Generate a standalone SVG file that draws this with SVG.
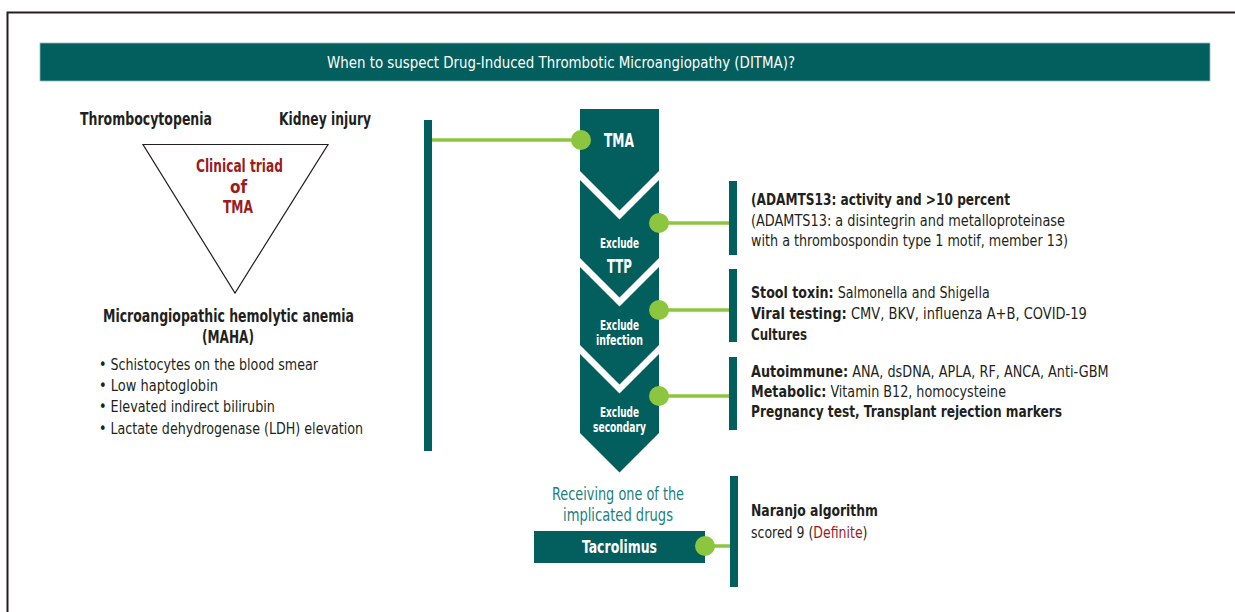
<svg xmlns="http://www.w3.org/2000/svg" width="1235" height="612" viewBox="0 0 1235 612">
<style>
text{font-family:"Liberation Sans Narrow","DejaVu Sans Condensed","Liberation Sans",sans-serif;fill:#231f20}
.b{font-weight:bold}
.w{fill:#ffffff}
.red{fill:#9b1b1f}
.teal{fill:#1a7f7d}
.blk{fill:#035e5e}
.gl{stroke:#8cc63f;stroke-width:3.5;fill:none}
.dot{fill:#8cc63f}
</style>
<rect x="0" y="0" width="1235" height="612" fill="#ffffff"/>
<path d="M7.5,620 V12.5 H1240" fill="none" stroke="#231f20" stroke-width="2"/>
<g id="header">
<rect x="40" y="43" width="1170" height="38" class="blk" stroke="#8fbcbc" stroke-width="0.8"/>
<text x="561" y="68" class="w" font-size="16.5" text-anchor="middle" textLength="468" lengthAdjust="spacingAndGlyphs">When to suspect Drug-Induced Thrombotic Microangiopathy (DITMA)?</text>
</g>
<g id="triad">
<text x="80" y="125" class="b" font-size="17" textLength="132" lengthAdjust="spacingAndGlyphs">Thrombocytopenia</text>
<text x="279" y="125" class="b" font-size="17" textLength="92" lengthAdjust="spacingAndGlyphs">Kidney injury</text>
<polygon points="143,144.5 328,144.5 235,293" fill="none" stroke="#231f20" stroke-width="1.2"/>
<text x="239.5" y="172" class="b red" font-size="17" text-anchor="middle" textLength="87" lengthAdjust="spacingAndGlyphs">Clinical triad</text>
<text x="238.5" y="193" class="b red" font-size="17" text-anchor="middle">of</text>
<text x="238" y="213" class="b red" font-size="17" text-anchor="middle" textLength="30" lengthAdjust="spacingAndGlyphs">TMA</text>
</g>
<g id="maha">
<text x="228.5" y="322" class="b" font-size="17" text-anchor="middle" textLength="251" lengthAdjust="spacingAndGlyphs">Microangiopathic hemolytic anemia</text>
<text x="228" y="343" class="b" font-size="17" text-anchor="middle" textLength="52" lengthAdjust="spacingAndGlyphs">(MAHA)</text>
<text x="99" y="370" font-size="16.5" textLength="219" lengthAdjust="spacingAndGlyphs">• Schistocytes on the blood smear</text>
<text x="99" y="391" font-size="16.5" textLength="119" lengthAdjust="spacingAndGlyphs">• Low haptoglobin</text>
<text x="99" y="412" font-size="16.5" textLength="176" lengthAdjust="spacingAndGlyphs">• Elevated indirect bilirubin</text>
<text x="99" y="434" font-size="16.5" textLength="264" lengthAdjust="spacingAndGlyphs">• Lactate dehydrogenase (LDH) elevation</text>
</g>
<g id="left-bar">
<rect x="424" y="120" width="8" height="331" class="blk"/>
</g>
<g id="col-tma">
<path d="M580,109 H659 V171 L619.5,210.5 L580,171 Z" class="blk"/>
<text x="619" y="147" class="b w" font-size="19" text-anchor="middle" textLength="30" lengthAdjust="spacingAndGlyphs">TMA</text>
</g>
<g id="col-ttp">
<path d="M580,180 L619.5,219.5 L659,180 V258 L619.5,297.5 L580,258 Z" class="blk"/>
<text x="619.5" y="248" class="b w" font-size="14.5" text-anchor="middle" textLength="39" lengthAdjust="spacingAndGlyphs">Exclude</text>
<text x="619.5" y="273" class="b w" font-size="19" text-anchor="middle" textLength="25" lengthAdjust="spacingAndGlyphs">TTP</text>
</g>
<g id="col-infection">
<path d="M580,267 L619.5,306.5 L659,267 V345 L619.5,384.5 L580,345 Z" class="blk"/>
<text x="619.5" y="330" class="b w" font-size="14.5" text-anchor="middle" textLength="39" lengthAdjust="spacingAndGlyphs">Exclude</text>
<text x="619.5" y="345" class="b w" font-size="14.5" text-anchor="middle" textLength="47" lengthAdjust="spacingAndGlyphs">infection</text>
</g>
<g id="col-secondary">
<path d="M580,354 L619.5,393.5 L659,354 V433 L619.5,472.5 L580,433 Z" class="blk"/>
<text x="619.5" y="417" class="b w" font-size="14.5" text-anchor="middle" textLength="39" lengthAdjust="spacingAndGlyphs">Exclude</text>
<text x="619.5" y="432" class="b w" font-size="14.5" text-anchor="middle" textLength="53" lengthAdjust="spacingAndGlyphs">secondary</text>
</g>
<g id="drugs">
<text x="618" y="500" class="teal" font-size="17" text-anchor="middle" textLength="132" lengthAdjust="spacingAndGlyphs">Receiving one of the</text>
<text x="618" y="521" class="teal" font-size="17" text-anchor="middle" textLength="110" lengthAdjust="spacingAndGlyphs">implicated drugs</text>
</g>
<g id="tacrolimus">
<rect x="534" y="531" width="171" height="32" class="blk"/>
<text x="619.5" y="553" class="b w" font-size="18" text-anchor="middle" textLength="75" lengthAdjust="spacingAndGlyphs">Tacrolimus</text>
</g>
<g id="info-ttp">
<rect x="729" y="181" width="8" height="74" class="blk"/>
<text x="751" y="205" class="b" font-size="16.5" textLength="259" lengthAdjust="spacingAndGlyphs">(ADAMTS13: activity and &gt;10 percent</text>
<text x="751" y="226" font-size="16.5" textLength="314" lengthAdjust="spacingAndGlyphs">(ADAMTS13: a disintegrin and metalloproteinase</text>
<text x="751" y="246" font-size="16.5" textLength="317" lengthAdjust="spacingAndGlyphs">with a thrombospondin type 1 motif, member 13)</text>
</g>
<g id="info-infection">
<rect x="729" y="269" width="8" height="73" class="blk"/>
<text transform="translate(751,298) scale(0.853,1)" x="0" y="0" font-size="16.5"><tspan class="b">Stool toxin:</tspan> Salmonella and Shigella</text>
<text transform="translate(751,319) scale(0.878,1)" x="0" y="0" font-size="16.5"><tspan class="b">Viral testing:</tspan> CMV, BKV, influenza A+B, COVID-19</text>
<text x="751" y="340" class="b" font-size="16.5" textLength="56" lengthAdjust="spacingAndGlyphs">Cultures</text>
</g>
<g id="info-secondary">
<rect x="729" y="357" width="8" height="73" class="blk"/>
<text transform="translate(751,377) scale(0.864,1)" x="0" y="0" font-size="16.5"><tspan class="b">Autoimmune:</tspan> ANA, dsDNA, APLA, RF, ANCA, Anti-GBM</text>
<text transform="translate(751,397) scale(0.86,1)" x="0" y="0" font-size="16.5"><tspan class="b">Metabolic:</tspan> Vitamin B12, homocysteine</text>
<text x="751" y="417" class="b" font-size="16.5" textLength="311" lengthAdjust="spacingAndGlyphs">Pregnancy test, Transplant rejection markers</text>
</g>
<g id="info-naranjo">
<rect x="730" y="476" width="8" height="111" class="blk"/>
<text x="751" y="516" class="b" font-size="16.5" textLength="127" lengthAdjust="spacingAndGlyphs">Naranjo algorithm</text>
<text transform="translate(751,538) scale(0.844,1)" x="0" y="0" font-size="16.5">scored 9 (<tspan class="red">Definite</tspan>)</text>
</g>
<g id="connectors">
<line x1="432" y1="140" x2="581" y2="140" class="gl"/>
<circle cx="581" cy="140" r="10" class="dot"/>
<line x1="659" y1="223" x2="729" y2="223" class="gl"/>
<circle cx="659" cy="223" r="10" class="dot"/>
<line x1="659" y1="310" x2="729" y2="310" class="gl"/>
<circle cx="659" cy="310" r="10" class="dot"/>
<line x1="659" y1="396" x2="729" y2="396" class="gl"/>
<circle cx="659" cy="396" r="10" class="dot"/>
<line x1="705" y1="546" x2="730" y2="546" class="gl"/>
<circle cx="705" cy="546" r="10" class="dot"/>
</g>
</svg>
